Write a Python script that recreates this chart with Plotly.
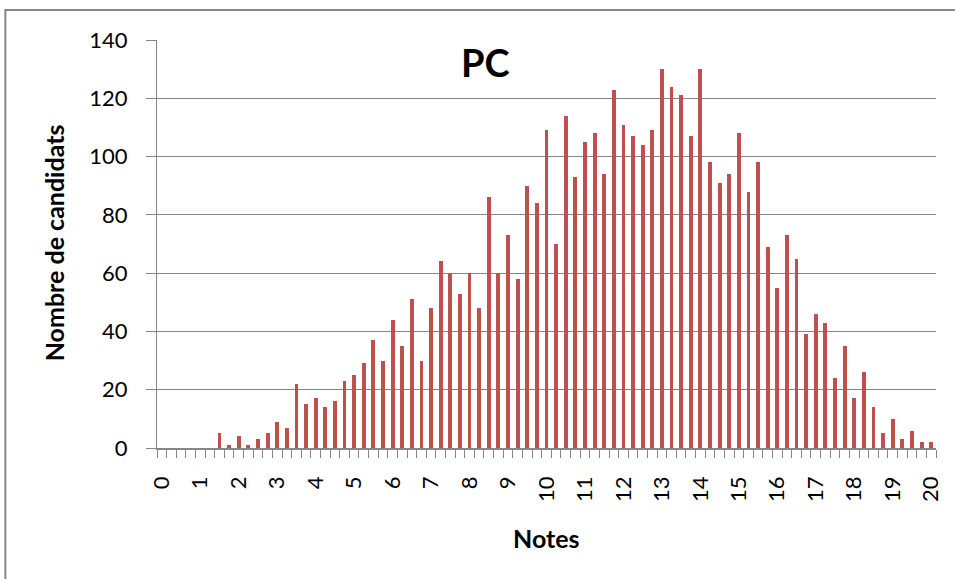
import plotly.graph_objects as go

notes = [0, 0.25, 0.5, 0.75, 1, 1.25, 1.5, 1.75, 2, 2.25, 2.5, 2.75, 3, 3.25, 3.5, 3.75,
         4, 4.25, 4.5, 4.75, 5, 5.25, 5.5, 5.75, 6, 6.25, 6.5, 6.75, 7, 7.25, 7.5, 7.75,
         8, 8.25, 8.5, 8.75, 9, 9.25, 9.5, 9.75, 10, 10.25, 10.5, 10.75, 11, 11.25, 11.5, 11.75,
         12, 12.25, 12.5, 12.75, 13, 13.25, 13.5, 13.75, 14, 14.25, 14.5, 14.75, 15, 15.25, 15.5, 15.75,
         16, 16.25, 16.5, 16.75, 17, 17.25, 17.5, 17.75, 18, 18.25, 18.5, 18.75, 19, 19.25, 19.5, 19.75, 20]

candidats = [0, 0, 0, 0, 0, 0, 5, 1, 4, 1, 3, 5, 9, 7, 22, 15,
             17, 14, 16, 23, 25, 29, 37, 30, 44, 35, 51, 30, 48, 64, 60, 53,
             60, 48, 86, 60, 73, 58, 90, 84, 109, 70, 114, 93, 105, 108, 94, 123,
             111, 107, 104, 109, 130, 124, 121, 107, 130, 98, 91, 94, 108, 88, 98, 69,
             55, 73, 65, 39, 46, 43, 24, 35, 17, 26, 14, 5, 10, 3, 6, 2, 2]

tick_vals = list(range(0, 21))
tick_text = [str(v) for v in tick_vals]
y_ticks = [0, 20, 40, 60, 80, 100, 120, 140]

FONT = "Lato"
GRID = "#868686"

fig = go.Figure()
fig.add_trace(go.Bar(x=notes, y=candidats, width=0.1,
                     marker=dict(color="#C0504D", line=dict(width=0))))

fig.update_layout(
    width=955, height=579,
    margin=dict(l=157, r=17, t=40, b=131),
    paper_bgcolor="white", plot_bgcolor="white",
    showlegend=False,
    font=dict(family=FONT, color="black", size=22),
    bargap=0,
)

fig.update_xaxes(
    range=[-0.125, 20.125],
    tickmode="array", tickvals=tick_vals, ticktext=tick_text,
    tickangle=-90,
    ticks="outside", ticklen=8, tickcolor="rgba(0,0,0,0)",
    ticklabelstandoff=10,
    minor=dict(tick0=0.125, dtick=0.25, ticks="outside", ticklen=8,
               tickcolor=GRID, tickwidth=1, showgrid=False),
    showline=True, linecolor=GRID, linewidth=1.5,
    showgrid=False, zeroline=False,
    tickfont=dict(family=FONT, size=22, color="black"),
)

fig.update_yaxes(
    range=[0, 140], tickmode="array", tickvals=y_ticks,
    ticks="outside", ticklen=10, tickcolor=GRID, tickwidth=1,
    ticklabelstandoff=14,
    showline=True, linecolor=GRID, linewidth=1,
    showgrid=True, gridcolor=GRID, gridwidth=1,
    zeroline=False,
    tickfont=dict(family=FONT, size=22, color="black"),
)

# outer chart border (cropped at right and bottom in the reference)
fig.add_shape(type="rect", xref="paper", yref="paper",
              x0=(5 - 157) / 781, x1=(990 - 157) / 781,
              y0=-(620 - 448) / 408, y1=1 + (40 - 10) / 408,
              line=dict(color=GRID, width=2), fillcolor="rgba(0,0,0,0)", layer="below")

fig.add_annotation(text="<b>PC</b>", xref="paper", yref="paper",
                   x=(486 - 157) / 781, y=1 - (62 - 40) / 408,
                   showarrow=False, font=dict(family=FONT, size=38, color="black"),
                   xanchor="center", yanchor="middle")

fig.add_annotation(text="<b>Nombre de candidats</b>", xref="paper", yref="paper",
                   x=(54 - 157) / 781, y=1 - (243 - 40) / 408, textangle=-90,
                   showarrow=False, font=dict(family=FONT, size=25, color="black"),
                   xanchor="center", yanchor="middle")

fig.add_annotation(text="<b>Notes</b>", xref="paper", yref="paper",
                   x=(547 - 157) / 781, y=-(538 - 448) / 408,
                   showarrow=False, font=dict(family=FONT, size=25, color="black"),
                   xanchor="center", yanchor="middle")

fig.write_html("out.html", config={"displayModeBar": False},
               post_script="document.body.style.margin='0';document.body.style.overflow='hidden';")
